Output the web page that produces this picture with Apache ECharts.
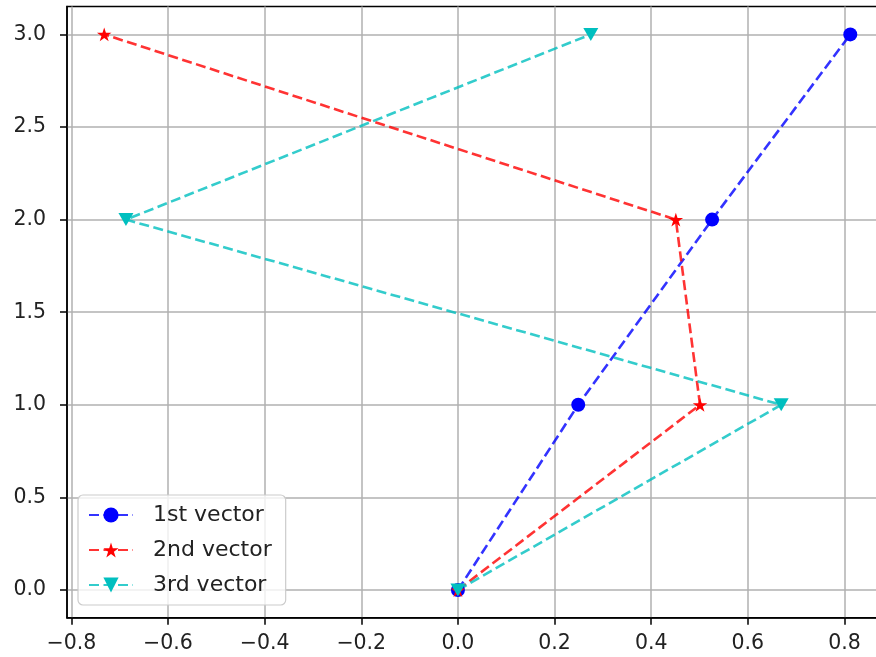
<!DOCTYPE html>
<html>
<head>
<meta charset="UTF-8">
<script src="https://cdn.jsdelivr.net/npm/echarts@6/dist/echarts.min.js"></script>
<style>
  body { margin: 0; background: #fff; }
  #chart { width: 876px; height: 657px; }
</style>
</head>
<body>
<div id="chart"></div>
<script>
// data
const rows = [0, 1, 2, 3];
const vec1X = [0, 0.249, 0.526, 0.812];
const vec2X = [0, 0.501, 0.451, -0.732];
const vec3X = [0, 0.669, -0.687, 0.275];
const xTicks = [-0.8, -0.6, -0.4, -0.2, 0, 0.2, 0.4, 0.6, 0.8];
const yTicks = [0, 0.5, 1, 1.5, 2, 2.5, 3];
const names = ['1st vector', '2nd vector', '3rd vector'];

const starPath = 'path://M0 -1L0.2245 -0.309L0.951 -0.309L0.363 0.118L0.588 0.809L0 0.382L-0.588 0.809L-0.363 0.118L-0.951 -0.309L-0.2245 -0.309Z';

function fmt(v) {
  return v.toFixed(1).replace('-', '\u2212');
}

function pairs(xs) {
  return xs.map((x, i) => [x, rows[i]]);
}

function lineSeries(name, xs, color, symbol, size, rotate) {
  return {
    name: name,
    type: 'line',
    data: pairs(xs),
    symbol: symbol,
    symbolSize: size,
    symbolRotate: rotate,
    showAllSymbol: true,
    color: color,
    itemStyle: { color: color, opacity: 1 },
    lineStyle: { color: color, width: 2.6, type: [10, 4.5], opacity: 0.8 },
    emphasis: { disabled: true },
    animation: false,
    z: 3
  };
}

const chart = echarts.init(document.getElementById('chart'));

const axisCommon = {
  axisLine: { onZero: false, lineStyle: { color: '#000', width: 1.5 } },
  axisTick: { show: true, length: 7, lineStyle: { color: '#000', width: 1.5 } },
  splitLine: { show: true, lineStyle: { color: '#b0b0b0', width: 1.5 } }
};

chart.setOption({
  animation: false,
  grid: {
    left: 67, top: 6.6, width: 820.5, height: 611.2,
    outerBoundsMode: 'none', containLabel: false,
    show: true, borderColor: '#000', borderWidth: 1.5, backgroundColor: 'transparent'
  },
  xAxis: {
    type: 'value',
    min: -0.809, max: 0.889,
    axisLine: axisCommon.axisLine,
    axisTick: Object.assign({ customValues: xTicks }, axisCommon.axisTick),
    splitLine: axisCommon.splitLine,
    axisLabel: {
      customValues: xTicks,
      formatter: fmt,
      color: '#222', fontSize: 20.5, fontFamily: 'DejaVu Sans', margin: 15
    }
  },
  yAxis: {
    type: 'value',
    min: -0.15, max: 3.15,
    axisLine: axisCommon.axisLine,
    axisTick: Object.assign({ customValues: yTicks }, axisCommon.axisTick),
    splitLine: axisCommon.splitLine,
    axisLabel: {
      customValues: yTicks,
      formatter: fmt,
      color: '#222', fontSize: 20.5, fontFamily: 'DejaVu Sans', margin: 21
    }
  },
  legend: {
    data: names,
    orient: 'vertical',
    left: 78, top: 495,
    itemWidth: 44, itemHeight: 19, itemGap: 13,
    padding: [9, 14, 9, 10],
    backgroundColor: 'rgba(255,255,255,0.8)',
    borderColor: '#cccccc', borderWidth: 1.2, borderRadius: 5,
    textStyle: { color: '#222', fontSize: 22, fontFamily: 'DejaVu Sans', padding: [0, 0, 0, 15] }
  },
  series: [
    lineSeries(names[0], vec1X, '#0000ff', 'circle', 14, 0),
    lineSeries(names[1], vec2X, '#ff0000', starPath, [14.5, 13.8], 0),
    lineSeries(names[2], vec3X, '#00bfbf', 'triangle', [15, 13], 180)
  ]
});
</script>
</body>
</html>
